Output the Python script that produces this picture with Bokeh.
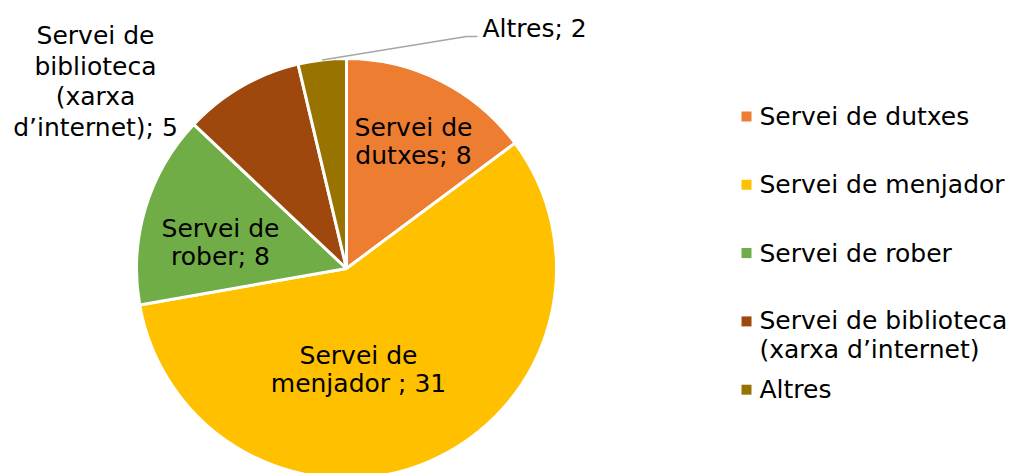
import math
from bokeh.plotting import figure
from bokeh.models import Range1d, ColumnDataSource
from bokeh.core.properties import value
from bokeh.embed import file_html
from bokeh.resources import INLINE

# ---------------- data ----------------
categories = ["Servei de dutxes", "Servei de menjador", "Servei de rober",
              "Servei de biblioteca (xarxa d’internet)", "Altres"]
values = [8, 31, 8, 5, 2]
legend_labels = ["Servei de dutxes", "Servei de menjador", "Servei de rober",
                 "Servei de biblioteca\n(xarxa d’internet)", "Altres"]
slice_labels = ["Servei de\ndutxes; 8", "Servei de\nmenjador ; 31", "Servei de\nrober; 8",
                "Servei de\nbiblioteca\n(xarxa\nd’internet); 5", "Altres; 2"]
colors = ["#ED7D31", "#FFC000", "#70AD47", "#9E480E", "#997300"]

# ---------------- layout ----------------
W, H = 1012, 473
IMG_H = 473


def Y(img_y):
    return IMG_H - img_y


FONT = "DejaVu Sans"
FS = "25px"
cx, cy, R = 346, Y(268), 210

p = figure(width=W, height=H, output_backend="svg", toolbar_location=None,
           x_range=Range1d(0, W), y_range=Range1d(IMG_H - H, IMG_H),
           min_border=0)
p.axis.visible = False
p.grid.visible = False
p.outline_line_color = None
p.background_fill_color = "white"
p.border_fill_color = "white"

total = sum(values)
starts, ends, mids = [], [], []
cum = 0
for v in values:
    a0 = math.pi / 2 - 2 * math.pi * cum / total
    cum += v
    a1 = math.pi / 2 - 2 * math.pi * cum / total
    starts.append(a0)
    ends.append(a1)
    mids.append((a0 + a1) / 2)

src = ColumnDataSource(dict(x=[cx] * len(values), y=[cy] * len(values),
                            start=starts, end=ends, color=colors, cat=categories))
p.wedge(x="x", y="y", radius=R, start_angle="start", end_angle="end",
        direction="clock", fill_color="color", line_color="white", line_width=3,
        source=src)

# ---- slice labels (inside) ----
inside_pos = [(413, 141), (358, 369), (220, 242)]
p.text(x=[q[0] for q in inside_pos], y=[Y(q[1]) for q in inside_pos],
       text=slice_labels[:3], text_font=value(FONT), text_font_size=FS,
       text_align="center", text_baseline="middle", text_color="black",
       text_line_height=0.97)

# ---- outside labels ----
p.text(x=[95], y=[Y(81)], text=[slice_labels[3]], text_font=value(FONT),
       text_font_size=FS, text_align="center", text_baseline="middle",
       text_color="black", text_line_height=1.05)
p.text(x=[482], y=[Y(28)], text=[slice_labels[4]], text_font=value(FONT),
       text_font_size=FS, text_align="left", text_baseline="middle",
       text_color="black")

# leader line for "Altres"
ma = mids[4]
sx, sy = cx + R * math.cos(ma), cy + R * math.sin(ma)
p.line(x=[sx, 466, 477], y=[sy, Y(36), Y(36)], line_color="#A6A6A6", line_width=1.5)

# ---- legend (manual) ----
lg_x, lg_y0, lg_dy = 746, 116, 68.3
sq_y = [Y(lg_y0 + i * lg_dy) for i in range(len(categories))]
p.rect(x=[lg_x] * len(categories), y=sq_y, width=10, height=10,
       fill_color=colors, line_color=None)
line_h = 28
text_y = [sy_ - (lab.count("\n")) * line_h / 2 for sy_, lab in zip(sq_y, legend_labels)]
p.text(x=[lg_x + 13] * len(categories), y=text_y, text=legend_labels,
       text_font=value(FONT), text_font_size=FS, text_align="left",
       text_baseline="middle", text_color="black", text_line_height=1.0)

open("out.html", "w").write(file_html(p, INLINE))
